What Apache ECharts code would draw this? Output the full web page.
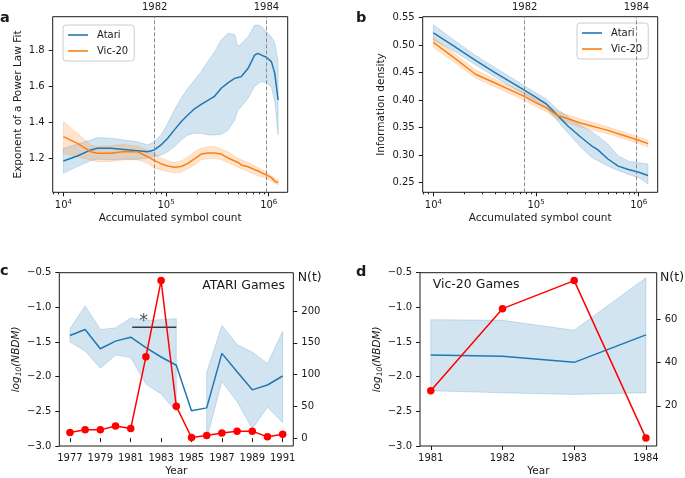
<!DOCTYPE html>
<html><head><meta charset="utf-8">
<script src="https://cdn.jsdelivr.net/npm/echarts@6/dist/echarts.min.js"></script>
<style>html,body{margin:0;padding:0;background:#fff}#chart{width:685px;height:478px}</style>
</head><body><div id="chart"></div>
<script>
// ---------- Panel a : exponent of power-law fit ----------
const aCounts = [10000, 13700, 18500, 21500, 29000, 39200, 52800, 66200, 76900, 89400, 103800, 120600, 140200, 162900, 189200, 219800, 255400, 296700, 344700, 400500, 465300, 501500, 540600, 628100, 729800, 786600, 848000, 948800, 1061800, 1144500, 1233700];
const aAtari   = [1.183, 1.211, 1.245, 1.254, 1.254, 1.248, 1.241, 1.235, 1.245, 1.273, 1.31, 1.357, 1.403, 1.44, 1.475, 1.50, 1.522, 1.545, 1.59, 1.62, 1.645, 1.65, 1.655, 1.70, 1.776, 1.785, 1.775, 1.763, 1.739, 1.673, 1.524];
const aAtariHi = [1.254, 1.278, 1.30, 1.314, 1.31, 1.30, 1.29, 1.273, 1.29, 1.329, 1.394, 1.468, 1.534, 1.59, 1.636, 1.683, 1.739, 1.794, 1.86, 1.897, 1.891, 1.822, 1.84, 1.877, 1.943, 1.943, 1.935, 1.906, 1.877, 1.845, 1.74];
const aAtariLo = [1.114, 1.152, 1.185, 1.193, 1.19, 1.193, 1.193, 1.198, 1.207, 1.217, 1.235, 1.263, 1.30, 1.329, 1.338, 1.338, 1.329, 1.329, 1.333, 1.355, 1.412, 1.468, 1.487, 1.534, 1.60, 1.615, 1.627, 1.62, 1.595, 1.52, 1.33];
const aVic     = [1.319, 1.282, 1.235, 1.226, 1.226, 1.236, 1.235, 1.207, 1.185, 1.168, 1.155, 1.148, 1.152, 1.17, 1.195, 1.222, 1.228, 1.228, 1.222, 1.20, 1.183, 1.175, 1.161, 1.151, 1.135, 1.127, 1.118, 1.105, 1.09, 1.07, 1.062];
const aVicHi   = [1.403, 1.338, 1.273, 1.263, 1.269, 1.276, 1.265, 1.245, 1.226, 1.20, 1.185, 1.174, 1.183, 1.205, 1.235, 1.255, 1.263, 1.263, 1.25, 1.235, 1.211, 1.20, 1.19, 1.175, 1.155, 1.145, 1.135, 1.12, 1.10, 1.088, 1.077];
const aVicLo   = [1.226, 1.207, 1.189, 1.18, 1.18, 1.19, 1.19, 1.17, 1.143, 1.133, 1.124, 1.118, 1.12, 1.14, 1.161, 1.19, 1.195, 1.198, 1.19, 1.175, 1.156, 1.148, 1.14, 1.125, 1.108, 1.10, 1.095, 1.085, 1.072, 1.06, 1.05];
const aYTicks  = [1.2, 1.4, 1.6, 1.8];

// ---------- Panel b : information density ----------
const bCounts  = [10000, 15850, 25700, 39800, 74100, 100000, 125900, 162200, 204200, 275400, 346700, 398100, 501200, 631000, 794300, 1000000, 1230000];
const bAtari   = [0.522, 0.498, 0.472, 0.450, 0.420, 0.405, 0.393, 0.372, 0.353, 0.332, 0.317, 0.310, 0.293, 0.280, 0.274, 0.269, 0.263];
const bAtariHi = [0.537, 0.509, 0.481, 0.459, 0.428, 0.413, 0.402, 0.383, 0.370, 0.353, 0.343, 0.335, 0.320, 0.299, 0.289, 0.286, 0.284];
const bAtariLo = [0.509, 0.489, 0.464, 0.442, 0.412, 0.397, 0.385, 0.362, 0.340, 0.314, 0.296, 0.290, 0.280, 0.272, 0.265, 0.259, 0.248];
const bVic     = [0.505, 0.477, 0.447, 0.431, 0.408, 0.395, 0.386, 0.372, 0.366, 0.358, 0.353, 0.350, 0.345, 0.339, 0.333, 0.327, 0.321];
const bVicHi   = [0.514, 0.485, 0.455, 0.438, 0.415, 0.402, 0.393, 0.379, 0.373, 0.365, 0.360, 0.357, 0.351, 0.345, 0.339, 0.333, 0.327];
const bVicLo   = [0.496, 0.469, 0.440, 0.424, 0.401, 0.388, 0.379, 0.365, 0.359, 0.351, 0.346, 0.343, 0.339, 0.333, 0.327, 0.321, 0.315];
const bYTicks  = [0.25, 0.30, 0.35, 0.40, 0.45, 0.50, 0.55];

// shared log-axis ticks and event markers
const xMajorTicks = [10000, 100000, 1000000];
const xMinorTicks = [8000, 9000, 20000, 30000, 40000, 50000, 60000, 70000, 80000, 90000, 200000, 300000, 400000, 500000, 600000, 700000, 800000, 900000];
const eventCounts = [77500, 950000];
const eventYears  = ['1982', '1984'];

// ---------- Panel c : ATARI games ----------
const cYears = [1977, 1978, 1979, 1980, 1981, 1982, 1983, 1984, 1985, 1986, 1987, 1988, 1989, 1990, 1991];
const cNBDM  = [-1.406, -1.32, -1.597, -1.487, -1.43, -1.582, -1.716, -1.835, -2.49, -2.45, -1.664, -1.93, -2.19, -2.12, -1.99];
const cHi    = [-1.31, -0.977, -1.32, -1.296, -1.153, -1.19, -1.177, -1.163, null, -1.94, -1.26, -1.535, -1.645, -1.81, -1.345];
const cLo    = [-1.50, -1.63, -1.878, -1.688, -1.725, -2.107, -2.25, -2.504, null, -2.9, -2.07, -2.36, -2.75, -2.44, -2.66];
const cN     = [9, 13, 13, 19, 15, 128, 248, 50, 1, 4, 8, 11, 11, 2, 6];
const cYearTicks = [1977, 1979, 1981, 1983, 1985, 1987, 1989, 1991];
const cNTicks = [0, 50, 100, 150, 200];
const cSigBar = [[1981.1, -1.287], [1984.0, -1.287]];
const cSigStar = [[1981.85, -1.287]];

// ---------- Panel d : Vic-20 games ----------
const dYears = [1981, 1982, 1983, 1984];
const dNBDM  = [-1.688, -1.707, -1.793, -1.397];
const dHi    = [-1.177, -1.187, -1.33, -0.572];
const dLo    = [-2.203, -2.232, -2.256, -2.232];
const dN     = [27, 65, 78, 5];
const dNTicks = [20, 40, 60];

const nbdmTicks = [-3.0, -2.5, -2.0, -1.5, -1.0, -0.5];

// ---------- styling ----------
const FONT = 'DejaVu Sans';
const INK = '#1a1a1a';
const BLUE = '#1f77b4', ORANGE = '#ff7f0e', RED = '#ff0000';
const BLUE_A = 'rgba(31,119,180,0.2)', ORANGE_A = 'rgba(255,127,14,0.2)';
const LOG_MIN = 7870, LOG_MAX = 1530000;

function zip(xs, ys) { return xs.map((x, i) => [x, ys[i]]); }
function minus(s) { return s.replace('-', '\u2212'); }

function band(name, xs, lo, hi, color, xi, yi) {
  return {
    type: 'custom', name: name, xAxisIndex: xi, yAxisIndex: yi, silent: true, z: 1, clip: false,
    data: [[xs[0], lo[0]]],
    renderItem: function (params, api) {
      if (params.dataIndex !== 0) return null;
      const segs = []; let cur = [];
      for (let i = 0; i < xs.length; i++) {
        if (lo[i] == null || hi[i] == null) { if (cur.length) segs.push(cur); cur = []; }
        else cur.push(i);
      }
      if (cur.length) segs.push(cur);
      const children = segs.filter(s => s.length > 1).map(s => {
        const pts = [];
        s.forEach(i => pts.push(api.coord([xs[i], hi[i]])));
        s.slice().reverse().forEach(i => pts.push(api.coord([xs[i], lo[i]])));
        return { type: 'polygon', shape: { points: pts }, style: { fill: color, stroke: color, lineWidth: 1 } };
      });
      return { type: 'group', children: children };
    }
  };
}

function lineS(name, xs, ys, color, xi, yi, z) {
  return { type: 'line', name: name, xAxisIndex: xi, yAxisIndex: yi, data: zip(xs, ys), symbol: 'none',
    lineStyle: { color: color, width: 1.5 }, itemStyle: { color: color }, z: z || 3, silent: true, animation: false };
}

const tickStyle = { color: INK, width: 1 };
const labelBase = { color: INK, fontSize: 10, fontFamily: FONT };

function mainLog(g) {
  return { type: 'log', logBase: 10, gridIndex: g, min: LOG_MIN, max: LOG_MAX, position: 'bottom',
    axisLine: { show: false }, splitLine: { show: false },
    axisTick: { show: true, customValues: xMajorTicks, length: 4, lineStyle: tickStyle },
    axisLabel: { customValues: xMajorTicks, margin: 7,
      formatter: v => '{b|10}{s|' + Math.round(Math.log10(v)) + '}',
      rich: { b: { fontSize: 10, color: INK, fontFamily: FONT, lineHeight: 12 },
              s: { fontSize: 7, color: INK, fontFamily: FONT, lineHeight: 12, padding: [0, 0, 6, 0] } } },
    name: 'Accumulated symbol count', nameLocation: 'middle', nameGap: 20,
    nameTextStyle: { fontSize: 10.5, color: INK, fontFamily: FONT } };
}
function minorLog(g) {
  return { type: 'log', logBase: 10, gridIndex: g, min: LOG_MIN, max: LOG_MAX, position: 'bottom',
    axisLine: { show: false }, splitLine: { show: false }, axisLabel: { show: false },
    axisTick: { show: true, customValues: xMinorTicks, length: 2, lineStyle: tickStyle } };
}
function topLog(g) {
  return { type: 'log', logBase: 10, gridIndex: g, min: LOG_MIN, max: LOG_MAX, position: 'top',
    axisLine: { show: false }, splitLine: { show: false }, axisTick: { show: false },
    axisLabel: Object.assign({ customValues: eventCounts, margin: 4,
      formatter: v => { let best = 0; eventCounts.forEach((e, i) => { if (Math.abs(Math.log10(e) - Math.log10(v)) < Math.abs(Math.log10(eventCounts[best]) - Math.log10(v))) best = i; }); return eventYears[best]; } }, labelBase) };
}
function yVal(g, min, max, ticks, fmt, name, gap, pos) {
  const ax = { type: 'value', gridIndex: g, min: min, max: max, position: pos || 'left',
    axisLine: { show: false }, splitLine: { show: false },
    axisTick: { show: true, customValues: ticks, length: 4, lineStyle: tickStyle },
    axisLabel: Object.assign({ customValues: ticks, margin: 8, formatter: fmt }, labelBase) };
  if (name) { ax.name = name; ax.nameLocation = 'middle'; ax.nameGap = gap; ax.nameTextStyle = { fontSize: 10.5, color: INK, fontFamily: FONT }; }
  return ax;
}
function yearAxis(g, min, max, ticks) {
  return { type: 'value', gridIndex: g, min: min, max: max, position: 'bottom',
    axisLine: { show: false }, splitLine: { show: false },
    axisTick: { show: true, customValues: ticks, length: 4, lineStyle: tickStyle },
    axisLabel: Object.assign({ customValues: ticks, margin: 7, formatter: v => String(Math.round(v)) }, labelBase),
    name: 'Year', nameLocation: 'middle', nameGap: 20, nameTextStyle: { fontSize: 10.5, color: INK, fontFamily: FONT } };
}
const nbdmName = '{i|log}{s|10}{i|(NBDM)}';
const nbdmRich = { i: { fontStyle: 'italic', fontSize: 10.5, color: INK, fontFamily: FONT, lineHeight: 14 },
                   s: { fontStyle: 'italic', fontSize: 7.5, color: INK, fontFamily: FONT, lineHeight: 14, padding: [5, 0, 0, 0] } };

const gridStyle = { show: true, borderColor: INK, borderWidth: 1, backgroundColor: 'transparent' };
const dashed = { symbol: ['none', 'none'], silent: true, label: { show: false },
  lineStyle: { color: '#8c8c8c', type: [4, 2], width: 1 },
  data: eventCounts.map(v => ({ xAxis: v })) };

function legendAt(left, top) {
  return { data: ['Atari', 'Vic-20'], orient: 'vertical', left: left, top: top, icon: 'rect', itemWidth: 20, itemHeight: 1.6, itemGap: 4,
    padding: [4, 6, 4, 5], borderColor: '#cccccc', borderWidth: 1, borderRadius: 3, backgroundColor: 'rgba(255,255,255,0.85)',
    selectedMode: false, textStyle: { fontSize: 10, color: INK, fontFamily: FONT, padding: [0, 0, 0, 4], lineHeight: 12 } };
}

function txt(x, y, text, opts) {
  return Object.assign({ type: 'text', x: x, y: y, silent: true,
    style: Object.assign({ text: text, fill: INK, fontFamily: FONT, fontSize: 12.5, align: 'left', verticalAlign: 'middle' }, opts || {}) });
}

const option = {
  animation: false,
  textStyle: { fontFamily: FONT },
  grid: [
    Object.assign({ left: 52.7, top: 16.7, width: 235, height: 175.6 }, gridStyle),
    Object.assign({ left: 422.7, top: 16.7, width: 235, height: 175.6 }, gridStyle),
    Object.assign({ left: 59.3, top: 272.7, width: 234, height: 174.6 }, gridStyle),
    Object.assign({ left: 420, top: 272.7, width: 236.7, height: 174.6 }, gridStyle)
  ],
  legend: [legendAt(63, 25), legendAt(577, 23)],
  xAxis: [
    mainLog(0), minorLog(0), topLog(0),
    mainLog(1), minorLog(1), topLog(1),
    yearAxis(2, 1976.3, 1991.7, cYearTicks),
    yearAxis(3, 1980.85, 1984.15, dYears)
  ],
  yAxis: [
    yVal(0, 1.008, 1.99, aYTicks, v => v.toFixed(1), 'Exponent of a Power Law Fit', 29),
    yVal(1, 0.2325, 0.5515, bYTicks, v => v.toFixed(2), 'Information density', 36),
    Object.assign(yVal(2, -3.0, -0.5, nbdmTicks, v => minus(v.toFixed(1)), nbdmName, 34), { nameTextStyle: { rich: nbdmRich } }),
    yVal(2, -12.4, 260.4, cNTicks, v => String(v), null, 0, 'right'),
    Object.assign(yVal(3, -3.0, -0.5, nbdmTicks, v => minus(v.toFixed(1)), nbdmName, 32), { nameTextStyle: { rich: nbdmRich } }),
    yVal(3, 1.35, 81.65, dNTicks, v => String(v), null, 0, 'right')
  ],
  series: [
    // panel a
    band('Atari band a', aCounts, aAtariLo, aAtariHi, BLUE_A, 0, 0),
    band('Vic band a', aCounts, aVicLo, aVicHi, ORANGE_A, 0, 0),
    Object.assign(lineS('Atari', aCounts, aAtari, BLUE, 0, 0), { markLine: dashed }),
    lineS('Vic-20', aCounts, aVic, ORANGE, 0, 0),
    // panel b
    band('Atari band b', bCounts, bAtariLo, bAtariHi, BLUE_A, 3, 1),
    band('Vic band b', bCounts, bVicLo, bVicHi, ORANGE_A, 3, 1),
    Object.assign(lineS('Atari', bCounts, bAtari, BLUE, 3, 1), { markLine: dashed }),
    lineS('Vic-20', bCounts, bVic, ORANGE, 3, 1),
    // panel c
    band('NBDM band c', cYears, cLo, cHi, BLUE_A, 6, 2),
    lineS('NBDM c', cYears, cNBDM, BLUE, 6, 2),
    lineS('sig c', cSigBar.map(p => p[0]), cSigBar.map(p => p[1]), '#3a3a3a', 6, 2, 4),
    { type: 'scatter', name: 'star c', xAxisIndex: 6, yAxisIndex: 2, data: cSigStar, symbolSize: 0, silent: true, z: 4,
      label: { show: true, formatter: '*', position: 'top', distance: -3, fontSize: 17, color: INK, fontFamily: FONT } },
    Object.assign(lineS('N c', cYears, cN, RED, 6, 3, 5), { symbol: 'circle', symbolSize: 7.5, showSymbol: true }),
    // panel d
    band('NBDM band d', dYears, dLo, dHi, BLUE_A, 7, 4),
    lineS('NBDM d', dYears, dNBDM, BLUE, 7, 4),
    Object.assign(lineS('N d', dYears, dN, RED, 7, 5, 5), { symbol: 'circle', symbolSize: 7.5, showSymbol: true })
  ],
  graphic: [
    txt(0, 10.5, 'a', { fontWeight: 'bold', fontSize: 14.5, verticalAlign: 'alphabetic' }),
    txt(356, 10.5, 'b', { fontWeight: 'bold', fontSize: 14.5, verticalAlign: 'alphabetic' }),
    txt(0, 264, 'c', { fontWeight: 'bold', fontSize: 14.5, verticalAlign: 'alphabetic' }),
    txt(356, 265, 'd', { fontWeight: 'bold', fontSize: 14.5, verticalAlign: 'alphabetic' }),
    txt(285, 285.7, 'ATARI Games', { align: 'right' }),
    txt(432.7, 285, 'Vic-20 Games'),
    txt(297.7, 277.7, 'N(t)'),
    txt(660, 277.7, 'N(t)')
  ]
};

const chart = echarts.init(document.getElementById('chart'), null, { renderer: 'canvas' });
chart.setOption(option);
</script></body></html>
